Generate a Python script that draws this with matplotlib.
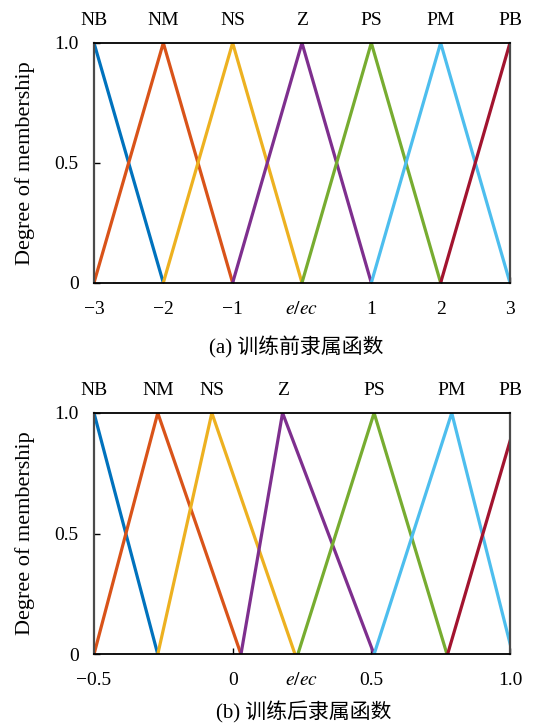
import matplotlib
matplotlib.use("Agg")
import matplotlib.pyplot as plt
from matplotlib.transforms import blended_transform_factory

# ---------------- data ----------------
set_names = ["NB", "NM", "NS", "Z", "PS", "PM", "PB"]
colors = ["#0072BD", "#D95319", "#EDB120", "#7E2F8E", "#77AC30", "#4DBEEE", "#A2142F"]

# (a) before training: triangle feet/peaks
a_left = [-4, -3, -2, -1, 0, 1, 2]
a_peak = [-3, -2, -1, 0, 1, 2, 3]
a_right = [-2, -1, 0, 1, 2, 3, 4]
a_xticks = [-3, -2, -1, 0, 1, 2, 3]
a_xticklabels = ["\u22123", "\u22122", "\u22121", "$e/ec$", "1", "2", "3"]
a_xlim = (-3, 3)

# (b) after training
b_left = [-0.77, -0.50, -0.27, 0.03, 0.235, 0.51, 0.775]
b_peak = [-0.50, -0.27, -0.075, 0.18, 0.51, 0.79, 1.03]
b_right = [-0.27, 0.03, 0.225, 0.51, 0.773, 1.01, 1.29]
b_xticks = [-0.5, 0, 0.25, 0.5, 1.0]
b_xticklabels = ["\u22120.5", "0", "$e/ec$", "0.5", "1.0"]
b_xlim = (-0.5, 1.0)

yticks = [0, 0.5, 1.0]
yticklabels = ["0", "0.5", "1.0"]
captions = ["(a) 训练前隶属函数", "(b) 训练后隶属函数"]

# ---------------- style ----------------
plt.rcParams['font.family'] = ['Liberation Serif', 'Noto Sans CJK SC']
plt.rcParams['mathtext.fontset'] = 'stix'
TICK_FS = 14
LABEL_FS = 16
CAP_FS = 15

fig = plt.figure(figsize=(5.34, 7.27), dpi=100)
ax_a = fig.add_axes([0.176, 0.611, 0.779, 0.330])
ax_b = fig.add_axes([0.176, 0.100, 0.779, 0.332])


def draw(ax, left, peak, right, xticks, xticklabels, xlim, center_label_idx):
    for l, p, r, c in zip(left, peak, right, colors):
        ax.plot([l, p, r], [0, 1, 0], color=c, lw=2.3, solid_joinstyle='miter',
                clip_on=True)
    ax.set_xlim(*xlim)
    ax.set_ylim(0, 1.0)
    ax.set_xticks(xticks)
    ax.set_xticklabels(xticklabels, fontsize=TICK_FS)
    ax.set_yticks(yticks)
    ax.set_yticklabels(yticklabels, fontsize=TICK_FS)
    ax.tick_params(direction='in', length=4, width=1, pad=11)
    ax.tick_params(axis='x', pad=13)
    ax.xaxis.get_major_ticks()[center_label_idx].tick1line.set_visible(False)
    ax.set_ylabel("Degree of membership", fontsize=LABEL_FS, labelpad=14)
    for side in ['left', 'right']:
        ax.spines[side].set_color('#4a4a4a')
        ax.spines[side].set_linewidth(1.6)
    for side in ['top', 'bottom']:
        ax.spines[side].set_color('black')
        ax.spines[side].set_linewidth(1.3)
    trans = blended_transform_factory(ax.transData, ax.transAxes)
    for name, p in zip(set_names, peak):
        xp = min(max(p, xlim[0]), xlim[1])
        ax.annotate(name, xy=(xp, 1.0), xycoords=trans, xytext=(0, 10),
                    textcoords='offset points', ha='center', va='bottom',
                    fontsize=TICK_FS, annotation_clip=False)


draw(ax_a, a_left, a_peak, a_right, a_xticks, a_xticklabels, a_xlim, 3)
draw(ax_b, b_left, b_peak, b_right, b_xticks, b_xticklabels, b_xlim, 2)

fig.text(296 / 534, 1 - 347 / 727, captions[0], ha='center', va='center', fontsize=CAP_FS)
fig.text(304 / 534, 1 - 712 / 727, captions[1], ha='center', va='center', fontsize=CAP_FS)

fig.savefig("out.png", dpi=100)
